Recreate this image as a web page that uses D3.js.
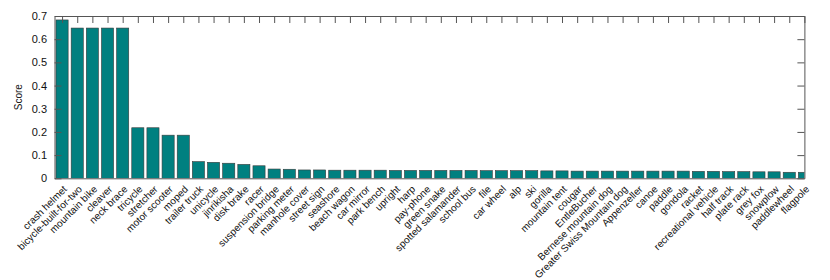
<!DOCTYPE html>
<html>
<head>
<meta charset="utf-8">
<script src="https://cdn.jsdelivr.net/npm/d3@7"></script>
<style>
  body { margin: 0; background: #fff; }
  text { font-family: "Liberation Sans", Arial, sans-serif; }
</style>
</head>
<body>
<div id="my_barchart"></div>
<script>
// categories, left to right
const categories = [
    "crash helmet", "bicycle-built-for-two", "mountain bike", "cleaver", "neck brace",
    "tricycle", "stretcher", "motor scooter", "moped", "trailer truck",
    "unicycle", "jinrikisha", "disk brake", "racer", "suspension bridge",
    "parking meter", "manhole cover", "street sign", "seashore", "beach wagon",
    "car mirror", "park bench", "upright", "harp", "pay-phone",
    "green snake", "spotted salamander", "school bus", "file", "car wheel",
    "alp", "ski", "gorilla", "mountain tent", "cougar",
    "EntleBucher", "Bernese mountain dog", "Greater Swiss Mountain dog", "Appenzeller", "canoe",
    "paddle", "gondola", "racket", "recreational vehicle", "half track",
    "plate rack", "grey fox", "snowplow", "paddlewheel", "flagpole"
];

// score of each category
const scores = [
    0.683, 0.648, 0.648, 0.648, 0.648,
    0.218, 0.218, 0.186, 0.186, 0.072,
    0.069, 0.065, 0.060, 0.054, 0.040,
    0.039, 0.036, 0.036, 0.035, 0.035,
    0.035, 0.035, 0.034, 0.034, 0.034,
    0.034, 0.034, 0.034, 0.033, 0.033,
    0.033, 0.033, 0.032, 0.032, 0.031,
    0.031, 0.031, 0.031, 0.031, 0.031,
    0.031, 0.031, 0.030, 0.030, 0.029,
    0.029, 0.028, 0.028, 0.026, 0.026
];

// y tick values
const yTicks = [0, 0.1, 0.2, 0.3, 0.4, 0.5, 0.6, 0.7];

var margin = {top: 16, right: 25.6, bottom: 101.7, left: 54.5},
    totalW = 830, totalH = 280,
    width = totalW - margin.left - margin.right,
    height = totalH - margin.top - margin.bottom;

var svg = d3.select("#my_barchart")
  .append("svg")
    .attr("width", totalW)
    .attr("height", totalH)
  .append("g")
    .attr("transform", "translate(" + margin.left + "," + margin.top + ")");

// x is a linear index scale, like matlab's bar()
var x = d3.scaleLinear()
    .domain([0.5, categories.length])
    .range([0, width]);

var y = d3.scaleLinear()
    .domain([0, 0.7])
    .range([height, 0]);

var tickLen = 7;
var idx = d3.range(1, categories.length + 1);

function styleAxis(g) {
    g.select(".domain").attr("stroke", "#555").attr("stroke-width", 1);
    g.selectAll(".tick line").attr("stroke", "#555").attr("stroke-width", 1);
    g.selectAll("text")
        .style("font-size", "11px")
        .attr("fill", "#111");
}

// clip bars to the axes box
svg.append("clipPath")
    .attr("id", "plotclip")
  .append("rect")
    .attr("width", width)
    .attr("height", height);

// bars
svg.append("g")
    .attr("clip-path", "url(#plotclip)")
  .selectAll(".bar")
    .data(scores)
    .enter()
    .append("rect")
    .attr("class", "bar")
    .attr("x", function(d, i) { return x(i + 1 - 0.4); })
    .attr("width", function(d, i) { return x(i + 1 + 0.4) - x(i + 1 - 0.4); })
    .attr("y", function(d) { return y(d); })
    .attr("height", function(d) { return height - y(d); })
    .attr("fill", "#008080")
    .attr("stroke", "#3a3a3a")
    .attr("stroke-width", 0.6);

// left axis
svg.append("g")
    .call(d3.axisLeft(y)
        .tickValues(yTicks)
        .tickSizeInner(-tickLen)
        .tickSizeOuter(0)
        .tickPadding(7.5)
        .tickFormat(function(d) { return d === 0 ? "0" : d.toFixed(1); }))
    .call(styleAxis);

// right axis, ticks only
svg.append("g")
    .attr("transform", "translate(" + width + ",0)")
    .call(d3.axisRight(y)
        .tickValues(yTicks)
        .tickSizeInner(-tickLen)
        .tickSizeOuter(0)
        .tickFormat(""))
    .call(styleAxis);

// top axis, ticks only
svg.append("g")
    .call(d3.axisTop(x)
        .tickValues(idx)
        .tickSizeInner(-tickLen)
        .tickSizeOuter(0)
        .tickFormat(""))
    .call(styleAxis);

// bottom axis line (ticks hidden behind bars)
svg.append("g")
    .attr("transform", "translate(0," + height + ")")
    .call(d3.axisBottom(x)
        .tickValues([])
        .tickSizeOuter(0))
    .call(styleAxis);

// rotated category labels
svg.selectAll(".cat-label")
    .data(categories)
    .enter()
    .append("text")
    .attr("class", "cat-label")
    .attr("transform", function(d, i) {
        return "translate(" + (x(i + 1) + 3) + "," + (height + 9) + ") rotate(-45)";
    })
    .attr("text-anchor", "end")
    .attr("dy", "0.35em")
    .style("font-size", "10px")
    .attr("fill", "#111")
    .text(function(d) { return d; });

// y label
svg.append("text")
    .attr("transform", "translate(" + (22 - margin.left) + "," + (height / 2) + ") rotate(-90)")
    .attr("text-anchor", "middle")
    .style("font-size", "10px")
    .attr("fill", "#111")
    .text("Score");
</script>
</body>
</html>
